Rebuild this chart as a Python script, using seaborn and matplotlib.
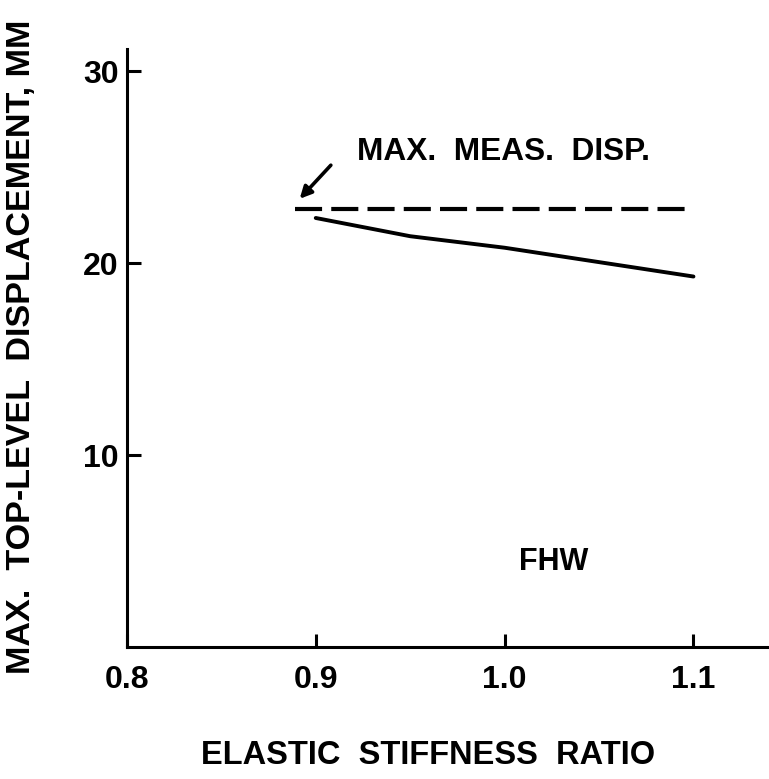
import matplotlib
matplotlib.use("Agg")
import matplotlib.pyplot as plt
import seaborn as sns
import pandas as pd

# Computed maximum top-level displacement vs. elastic stiffness ratio
stiffness_ratio = [0.90, 0.95, 1.00, 1.05, 1.10]
computed_disp = [22.35, 21.4, 20.8, 20.05, 19.3]

# Maximum measured displacement (constant reference level)
measured_ratio = [0.889, 1.10]
measured_disp = [22.8, 22.8]

x_ticks = [0.8, 0.9, 1.0, 1.1]
x_ticklabels = ["0.8", "0.9", "1.0", "1.1"]
y_ticks = [10, 20, 30]
y_ticklabels = ["10", "20", "30"]

sns.set_style("white")
plt.rcParams["font.family"] = ["Liberation Sans", "DejaVu Sans"]
plt.rcParams["text.color"] = "black"
plt.rcParams["axes.labelcolor"] = "black"
plt.rcParams["xtick.direction"] = "in"
plt.rcParams["ytick.direction"] = "in"
plt.rcParams["xtick.bottom"] = True
plt.rcParams["ytick.left"] = True

fig = plt.figure(figsize=(7.69, 7.79), dpi=100)
ax = fig.add_axes([0.165, 0.1695, 0.835, 0.7675])

computed = pd.DataFrame({"ratio": stiffness_ratio, "disp": computed_disp})
measured = pd.DataFrame({"ratio": measured_ratio, "disp": measured_disp})

sns.lineplot(data=computed, x="ratio", y="disp", ax=ax, color="black",
             linewidth=2.8, solid_capstyle="round")
sns.lineplot(data=measured, x="ratio", y="disp", ax=ax, color="black",
             linewidth=3.0, dashes=False)
ax.lines[-1].set_dashes([6.5, 2.2])

ax.set_xlim(0.8, 1.14)
ax.set_ylim(0, 31.15)

for side in ("top", "right"):
    ax.spines[side].set_visible(False)
for side in ("left", "bottom"):
    ax.spines[side].set_linewidth(2.2)
    ax.spines[side].set_color("black")

ax.set_xticks(x_ticks)
ax.set_xticklabels(x_ticklabels)
ax.set_yticks(y_ticks)
ax.set_yticklabels(y_ticklabels)
ax.tick_params(axis="both", which="major", direction="in", width=2.2,
               color="black", labelsize=23, labelcolor="black",
               left=True, bottom=True)
ax.tick_params(axis="y", length=10, pad=6)
ax.tick_params(axis="x", length=9.5, pad=13)
for lbl in ax.get_xticklabels() + ax.get_yticklabels():
    lbl.set_fontweight("bold")

ax.set_xlabel("ELASTIC  STIFFNESS  RATIO", fontsize=23.5, fontweight="bold",
              labelpad=28)
ax.xaxis.set_label_coords(0.469, -0.155)
ax.set_ylabel("MAX.  TOP-LEVEL  DISPLACEMENT, MM", fontsize=24.6,
              fontweight="bold")
ax.yaxis.set_label_coords(-0.14, 0.502)

ax.text(0.9217, 25.8, "MAX.  MEAS.  DISP.", fontsize=22.8, fontweight="bold",
        va="center", ha="left")
ax.annotate("", xy=(0.8915, 23.35), xytext=(0.908, 25.1),
            arrowprops=dict(arrowstyle="-|>,head_length=0.7,head_width=0.35",
                            color="black", lw=2.6, shrinkA=0, shrinkB=0))
ax.text(1.026, 4.43, "FHW", fontsize=22, fontweight="bold",
        va="center", ha="center")

fig.savefig("out.png", dpi=100)
